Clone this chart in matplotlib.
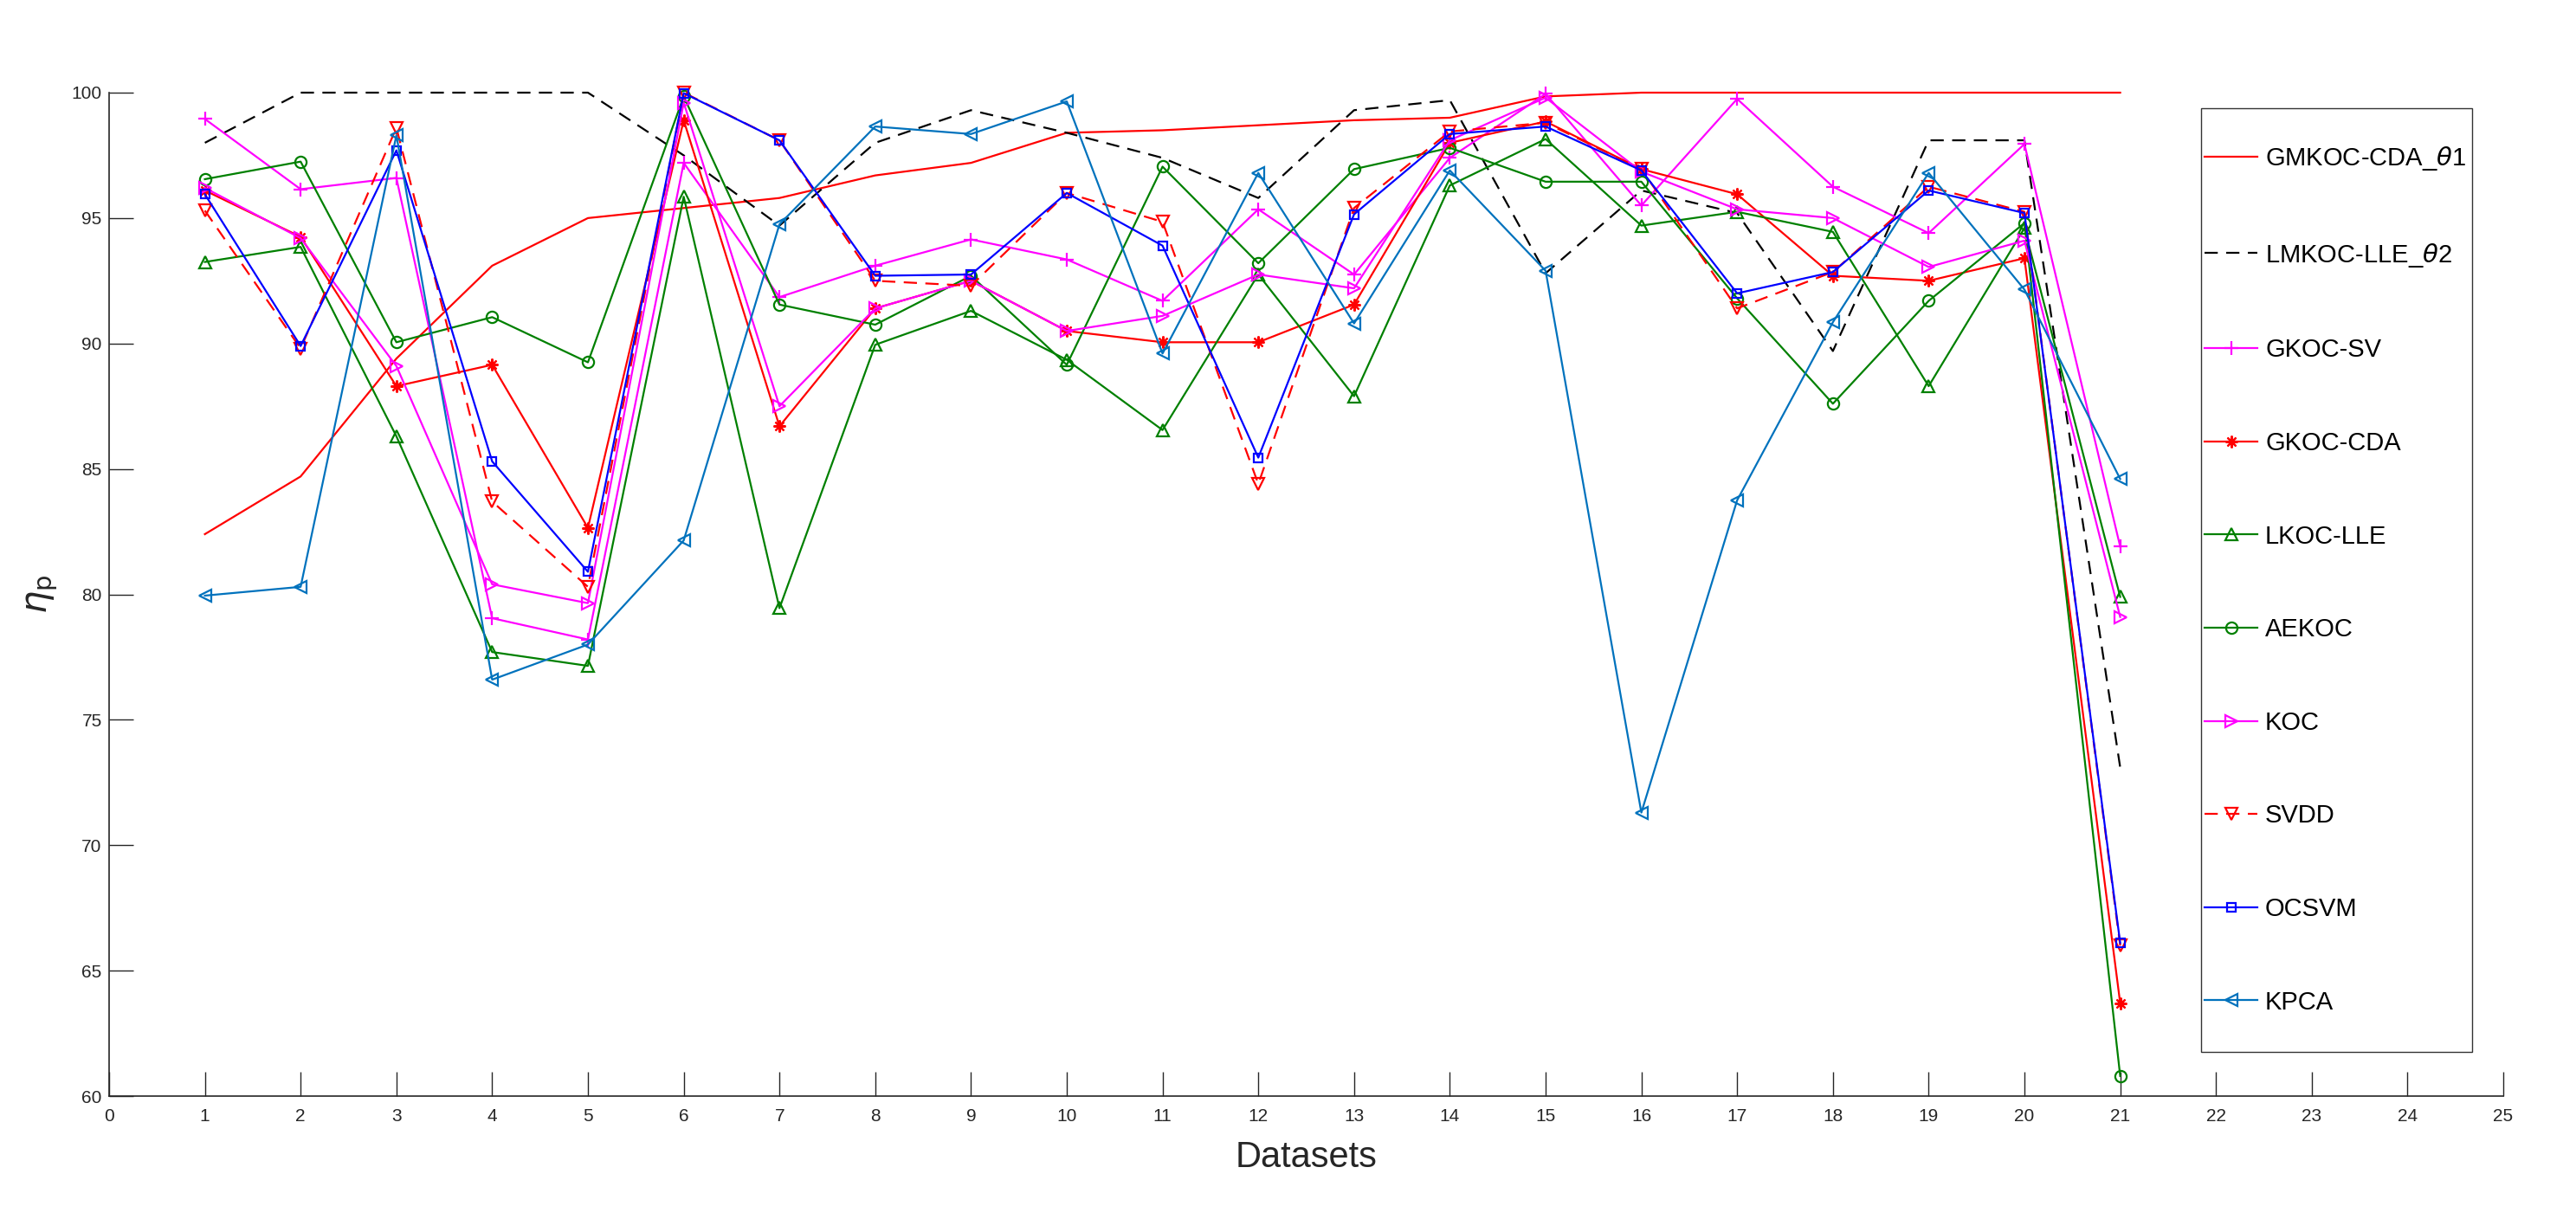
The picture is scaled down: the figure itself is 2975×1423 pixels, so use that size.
import matplotlib
matplotlib.use("Agg")
import matplotlib.pyplot as plt
from matplotlib.patches import Rectangle

datasets = list(range(1, 22))

gmkoc_cda_t1 = [82.4, 84.7, 89.4, 93.1, 95.0, 95.4, 95.8, 96.7, 97.2, 98.4, 98.5, 98.7, 98.9, 99.0, 99.85, 100, 100, 100, 100, 100, 100]
lmkoc_lle_t2 = [98.0, 100, 100, 100, 100, 97.5, 94.7, 98.0, 99.3, 98.4, 97.4, 95.8, 99.3, 99.7, 92.8, 96.1, 95.2, 89.7, 98.1, 98.1, 73.1]
gkoc_sv = [98.95, 96.15, 96.6, 79.05, 78.2, 97.2, 91.85, 93.1, 94.15, 93.35, 91.7, 95.35, 92.75, 97.4, 99.95, 95.5, 99.75, 96.25, 94.4, 97.95, 81.9]
gkoc_cda = [96.1, 94.25, 88.3, 89.15, 82.65, 98.9, 86.7, 91.4, 92.5, 90.5, 90.05, 90.05, 91.55, 98.0, 98.85, 96.95, 95.95, 92.7, 92.5, 93.4, 63.7]
lkoc_lle = [93.25, 93.85, 86.3, 77.7, 77.15, 95.85, 79.45, 89.95, 91.3, 89.35, 86.55, 92.75, 87.9, 96.3, 98.15, 94.7, 95.25, 94.45, 88.3, 94.6, 79.9]
aekoc = [96.55, 97.25, 90.05, 91.05, 89.25, 99.85, 91.55, 90.75, 92.7, 89.15, 97.05, 93.2, 96.95, 97.8, 96.45, 96.45, 91.8, 87.6, 91.7, 94.8, 60.8]
koc = [96.2, 94.2, 89.1, 80.4, 79.65, 99.6, 87.5, 91.4, 92.5, 90.5, 91.1, 92.75, 92.2, 98.1, 99.8, 96.85, 95.35, 95.0, 93.05, 94.1, 79.1]
svdd = [95.3, 89.8, 98.6, 83.7, 80.3, 100.0, 98.1, 92.5, 92.3, 96.0, 94.85, 84.4, 95.4, 98.45, 98.8, 96.95, 91.4, 92.85, 96.25, 95.25, 66.0]
ocsvm = [95.95, 89.9, 97.7, 85.3, 80.9, 99.98, 98.1, 92.7, 92.75, 96.0, 93.9, 85.45, 95.15, 98.35, 98.65, 96.9, 92.0, 92.85, 96.1, 95.2, 66.1]
kpca = [79.95, 80.3, 98.3, 76.6, 78.0, 82.15, 94.75, 98.65, 98.35, 99.65, 89.6, 96.8, 90.8, 96.9, 92.9, 71.3, 83.75, 90.85, 96.8, 92.15, 84.6]

labels = ["GMKOC-CDA_$\\theta$1", "LMKOC-LLE_$\\theta$2", "GKOC-SV", "GKOC-CDA", "LKOC-LLE",
          "AEKOC", "KOC", "SVDD", "OCSVM", "KPCA"]
xticks = list(range(0, 26))
yticks = list(range(60, 101, 5))

plt.rcParams['font.family'] = ['Liberation Sans', 'DejaVu Sans']
plt.rcParams['mathtext.fontset'] = 'dejavusans'
plt.rcParams['lines.scale_dashes'] = False

W, H = 2975, 1423
fig = plt.figure(figsize=(W / 100, H / 100), dpi=100)
ax = fig.add_axes([126 / W, 1 - 1266 / H, (2891 - 126) / W, (1266 - 107) / H])

green = (0, 0.5, 0)
kblue = (0, 0.447, 0.741)
asterisk = (8, 2, 0)
series = [
    (gmkoc_cda_t1, dict(color='red', ls='-', marker=None)),
    (lmkoc_lle_t2, dict(color='black', ls=(0, (11, 7)), marker=None)),
    (gkoc_sv, dict(color=(1, 0, 1), ls='-', marker='+', ms=11)),
    (gkoc_cda, dict(color='red', ls='-', marker=asterisk, ms=10)),
    (lkoc_lle, dict(color=green, ls='-', marker='^', ms=10.5)),
    (aekoc, dict(color=green, ls='-', marker='o', ms=9.5)),
    (koc, dict(color=(1, 0, 1), ls='-', marker='>', ms=10.5)),
    (svdd, dict(color='red', ls=(0, (11, 7)), marker='v', ms=10.5)),
    (ocsvm, dict(color='blue', ls='-', marker='s', ms=7.5)),
    (kpca, dict(color=kblue, ls='-', marker='<', ms=10.5)),
]
handles = []
for (vals, st), lab in zip(series, labels):
    ms = st.pop('ms', 8)
    h, = ax.plot(datasets, vals, lw=1.6, mfc='none', ms=ms, mew=1.6, label=lab,
                 clip_on=False, **st)
    handles.append(h)

ax.set_xlim(0, 25)
ax.set_ylim(60, 100)
ax.set_xticks(xticks)
ax.set_yticks(yticks)
for s in ['top', 'right']:
    ax.spines[s].set_visible(False)
for s in ['left', 'bottom']:
    ax.spines[s].set_color('0.15')
    ax.spines[s].set_linewidth(1.2)
ax.tick_params(direction='in', length=20, width=1.0, colors='0.15', labelsize=15)
ax.tick_params(axis='x', pad=10)
ax.tick_params(axis='y', pad=6)
for t in ax.get_xticklabels() + ax.get_yticklabels():
    t.set_color('0.15')

ax.set_xlabel('Datasets', fontsize=30, color='0.15', labelpad=13)
ax.set_ylabel(r'$\eta_{\rm p}$', fontsize=30, color='0.15', labelpad=10)

leg = fig.legend(handles=handles, labels=labels, loc='upper left',
                 bbox_to_anchor=(2546 / W, 1 - 167 / H), frameon=False,
                 fontsize=21, handlelength=2.1, handletextpad=0.3,
                 labelspacing=2.73, borderpad=0, borderaxespad=0)
for t in leg.get_texts():
    t.set_color('black')

fig.patches.append(Rectangle((2542 / W, 1 - 1215 / H), 313 / W, (1215 - 125) / H,
                             transform=fig.transFigure, fill=False, ec='0.2', lw=1.0))

fig.savefig('out.png', dpi=100)
